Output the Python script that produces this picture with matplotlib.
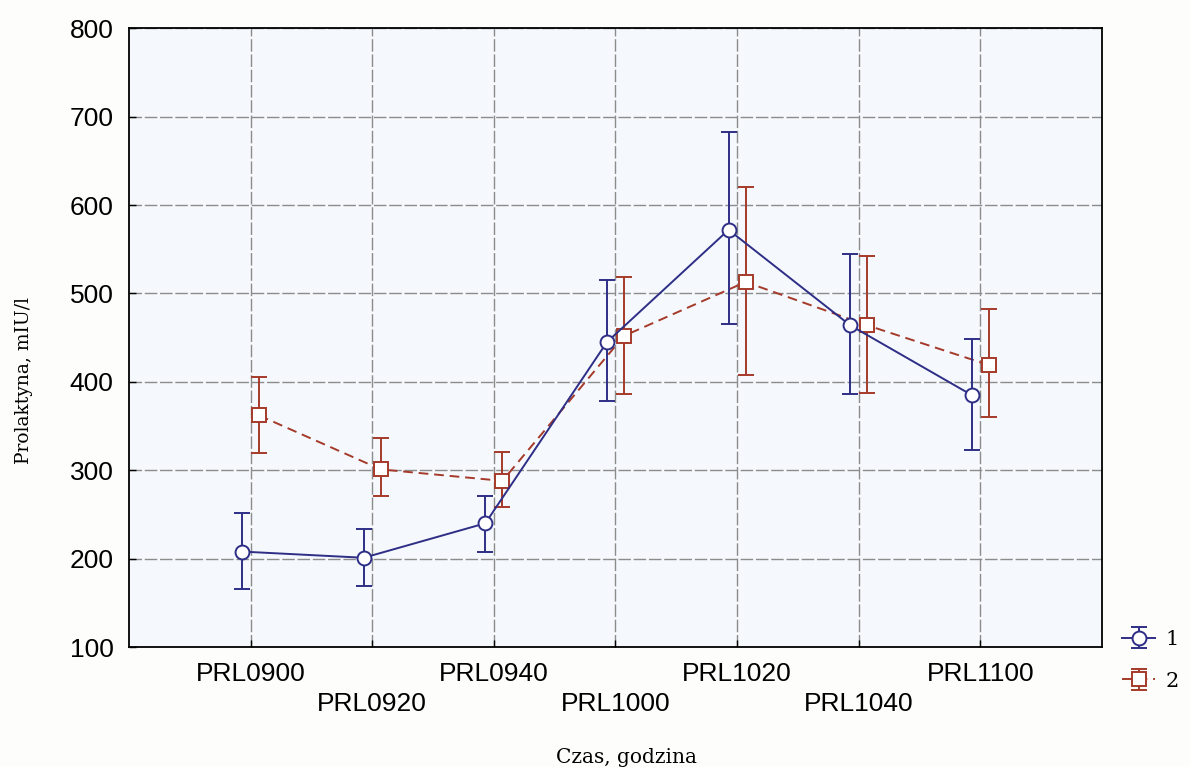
import numpy as np
import matplotlib
matplotlib.use("Agg")
import matplotlib.pyplot as plt

# dane
kategorie = ['PRL0900', 'PRL0920', 'PRL0940', 'PRL1000', 'PRL1020', 'PRL1040', 'PRL1100']

grupa1_srednia = [208, 201, 240, 445, 572, 464, 385]
grupa1_gora = [252, 234, 271, 515, 683, 545, 448]
grupa1_dol = [166, 169, 208, 378, 465, 386, 323]

grupa2_srednia = [362, 301, 288, 452, 513, 464, 419]
grupa2_gora = [406, 336, 321, 519, 621, 542, 482]
grupa2_dol = [319, 271, 258, 386, 408, 387, 360]

yticks = [100, 200, 300, 400, 500, 600, 700, 800]

kolor1 = '#2e2e86'
kolor2 = '#a53a2a'

fig = plt.figure(figsize=(11.9, 7.67), dpi=100, facecolor='#fdfdfb')
ax = fig.add_axes([0.1084, 0.1564, 0.926 - 0.1084, 0.9631 - 0.1564])
ax.set_facecolor('#f5f9fd')

x = np.arange(len(kategorie))
s1 = np.array(grupa1_srednia)
s2 = np.array(grupa2_srednia)
err1 = [s1 - np.array(grupa1_dol), np.array(grupa1_gora) - s1]
err2 = [s2 - np.array(grupa2_dol), np.array(grupa2_gora) - s2]

h1 = ax.errorbar(x - 0.07, s1, yerr=err1, color=kolor1, lw=1.4, marker='o', ms=10,
                 mfc='white', mec=kolor1, mew=1.4, capsize=5.5, elinewidth=1.4,
                 capthick=1.4, zorder=4, label='1')
h2 = ax.errorbar(x + 0.07, s2, yerr=err2, color=kolor2, lw=1.4, ls=(0, (5, 3)), marker='s', ms=10,
                 mfc='white', mec=kolor2, mew=1.4, capsize=5.5, elinewidth=1.4,
                 capthick=1.4, zorder=3, label='2')

ax.set_xlim(-1, len(kategorie))
ax.set_ylim(100, 800)
ax.set_yticks(yticks)
ax.set_xticks(x)
etykiety = [k if i % 2 == 0 else '\n' + k for i, k in enumerate(kategorie)]
ax.set_xticklabels(etykiety, fontfamily='Liberation Sans', fontsize=19, linespacing=1.28)
for t in ax.get_yticklabels():
    t.set_fontfamily('Liberation Sans')
    t.set_fontsize(19)

ax.tick_params(direction='in', length=5, width=1, color='black', pad=11)
ax.grid(True, color='#8c8c8c', lw=1, ls=(0, (9, 2)))
ax.set_axisbelow(True)
for sp in ax.spines.values():
    sp.set_linewidth(1.3)

ax.set_xlabel('Czas, godzina', fontfamily='DejaVu Serif', fontsize=14.5, va='center', ha='center')
ax.set_ylabel('Prolaktyna, mIU/l', fontfamily='DejaVu Serif', fontsize=13.5, va='center', ha='center')
ax.xaxis.set_label_coords(0.511, -0.178)
ax.yaxis.set_label_coords(-0.108, 0.43)

fig.legend(handles=[h1, h2], loc='lower left', bbox_to_anchor=(0.927, 0.075), frameon=False,
           prop={'family': 'DejaVu Serif', 'size': 15}, handlelength=1.6,
           labelspacing=1.1, handletextpad=0.5)

fig.savefig('out.png', dpi=100, facecolor=fig.get_facecolor())
